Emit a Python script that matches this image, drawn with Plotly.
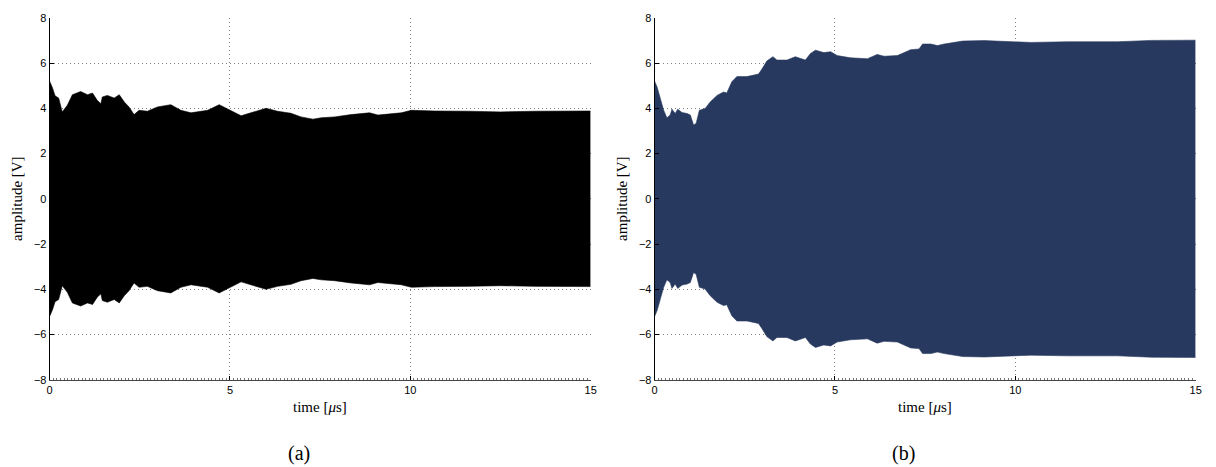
import plotly.graph_objects as go

# ---- data: envelope of the oscillation (amplitude in V vs time in us) ----
t_a = [0.0, 0.03, 0.08, 0.15, 0.25, 0.35, 0.49, 0.63, 0.86, 1.05, 1.19, 1.32, 1.42, 1.46,
       1.6, 1.79, 1.93, 2.07, 2.2, 2.34, 2.48, 2.71, 2.99, 3.36, 3.64, 3.92, 4.38, 4.7,
       5.03, 5.31, 5.58, 6.0, 6.32, 6.69, 6.97, 7.3, 7.53, 7.9, 8.36, 8.87, 9.1, 9.75,
       10.03, 10.67, 11.6, 12.5, 13.45, 14.4, 15.0]
env_a = [5.2, 5.1, 4.9, 4.55, 4.45, 3.84, 4.13, 4.6, 4.74, 4.6, 4.67, 4.35, 4.2, 4.5,
         4.57, 4.45, 4.6, 4.28, 4.06, 3.72, 3.91, 3.87, 4.06, 4.16, 3.91, 3.8, 3.91, 4.16,
         3.91, 3.67, 3.8, 4.0, 3.87, 3.78, 3.62, 3.52, 3.58, 3.62, 3.72, 3.8, 3.7, 3.8,
         3.91, 3.88, 3.87, 3.84, 3.87, 3.88, 3.88]

t_b = [0.0, 0.07, 0.16, 0.25, 0.34, 0.43, 0.48, 0.57, 0.64, 0.76, 0.9, 0.99, 1.08, 1.15,
       1.24, 1.4, 1.54, 1.73, 1.91, 2.0, 2.14, 2.28, 2.56, 2.88, 2.97, 3.11, 3.28, 3.39,
       3.67, 3.9, 4.18, 4.32, 4.46, 4.69, 4.88, 5.06, 5.43, 5.9, 6.17, 6.36, 6.73, 7.01,
       7.1, 7.33, 7.43, 7.66, 7.84, 8.03, 8.54, 9.14, 9.6, 10.43, 11.45, 12.84, 13.77, 15.0]
env_b = [5.2, 4.93, 4.42, 3.91, 3.58, 3.7, 3.96, 3.77, 3.96, 3.81, 3.77, 3.7, 3.26, 3.33,
         3.91, 3.99, 4.28, 4.57, 4.72, 4.68, 5.17, 5.4, 5.4, 5.51, 5.72, 6.09, 6.28, 6.13,
         6.13, 6.28, 6.13, 6.42, 6.57, 6.46, 6.5, 6.33, 6.23, 6.19, 6.38, 6.3, 6.33, 6.52,
         6.59, 6.62, 6.84, 6.84, 6.77, 6.84, 6.97, 6.99, 6.97, 6.91, 6.94, 6.94, 7.0, 7.01]

x_ticks = [0, 5, 10, 15]
y_ticks = [-8, -6, -4, -2, 0, 2, 4, 6, 8]
panel_labels = ["(a)", "(b)"]
colors = ["#000000", "#27395e"]

fig = go.Figure()

panels = [(t_a, env_a), (t_b, env_b)]
for i, (t, env) in enumerate(panels):
    xa = "x" if i == 0 else "x2"
    ya = "y" if i == 0 else "y2"
    fig.add_trace(go.Scatter(x=t, y=[-v for v in env], mode="lines",
                             line=dict(width=0.6, color=colors[i]),
                             xaxis=xa, yaxis=ya, showlegend=False, hoverinfo="skip"))
    fig.add_trace(go.Scatter(x=t, y=env, mode="lines", fill="tonexty",
                             fillcolor=colors[i],
                             line=dict(width=0.6, color=colors[i]),
                             xaxis=xa, yaxis=ya, showlegend=False, hoverinfo="skip"))

W, H = 1216, 467
# empirical correction of the photographed page geometry
SX, OX = 0.9926, 2.36
SY, OY = 0.993, -1.0


def px_x(p):
    return ((p - OX) / SX) / W


def px_y(p):
    return 1 - ((p - OY) / SY) / H


doms = [(px_x(49), px_x(590)), (px_x(654), px_x(1195))]
ydom = (px_y(380), px_y(11))
caption_x = [px_x(298), px_x(903)]
ylabel_x = [px_x(17), px_x(622)]

tickfont = dict(family="Liberation Sans, Arial, sans-serif", size=11, color="#000")
grid_dash = "1px,3px"
common_x = dict(range=[0, 15], tickvals=x_ticks, showgrid=True, griddash=grid_dash,
                gridcolor="#808080", gridwidth=1, zeroline=False, showline=True,
                linecolor="#444", linewidth=1, ticks="inside", ticklen=4,
                tickcolor="#000", tickfont=tickfont,
                minor=dict(dtick=0.1, ticks="inside", ticklen=2, tickcolor="#777",
                           showgrid=False))
common_y = dict(range=[-8, 8], tickvals=y_ticks,
                ticktext=[("\u2212" + str(-v)) if v < 0 else str(v) for v in y_ticks],
                showgrid=True, griddash=grid_dash, gridcolor="#808080", gridwidth=1,
                zeroline=False, showline=True, linecolor="#000", linewidth=1,
                ticks="inside", ticklen=4, tickcolor="#000", tickfont=tickfont)

layout = dict(
    width=W, height=H, margin=dict(l=0, r=0, t=0, b=0),
    plot_bgcolor="white", paper_bgcolor="white",
    xaxis=dict(domain=doms[0], anchor="y", **common_x),
    yaxis=dict(domain=ydom, anchor="x", **common_y),
    xaxis2=dict(domain=doms[1], anchor="y2", **common_x),
    yaxis2=dict(domain=ydom, anchor="x2", **common_y),
)
fig.update_layout(**layout)

serif = "Liberation Serif, DejaVu Serif, serif"
for i, (d0, d1) in enumerate(doms):
    cx = (d0 + d1) / 2
    fig.add_annotation(text="time [<i>\u03bc</i>s]", x=cx, y=px_y(408), xref="paper",
                       yref="paper", xanchor="center", yanchor="middle",
                       showarrow=False, font=dict(family=serif, size=15, color="#000"))
    fig.add_annotation(text=panel_labels[i], x=caption_x[i], y=px_y(455), xref="paper",
                       yref="paper", xanchor="center", yanchor="middle",
                       showarrow=False, font=dict(family=serif, size=20, color="#000"))
    fig.add_annotation(text="amplitude [V]", x=ylabel_x[i], y=px_y(195), xref="paper",
                       yref="paper", xanchor="center", yanchor="middle",
                       showarrow=False, textangle=-90,
                       font=dict(family=serif, size=15, color="#000"))

page_css = ("document.documentElement.style.margin='0';"
            "document.documentElement.style.overflow='hidden';"
            "document.body.style.margin='0';"
            "document.body.style.overflow='hidden';"
            "document.body.style.height='467px';")
fig.write_html("out.html", post_script=page_css, config={"displayModeBar": False})
